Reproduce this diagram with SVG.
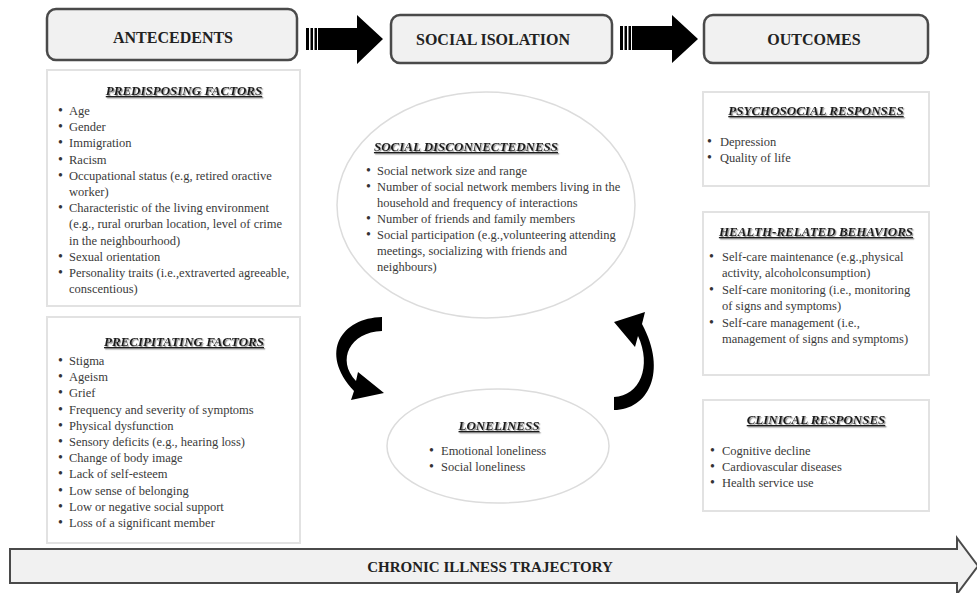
<svg xmlns="http://www.w3.org/2000/svg" width="977" height="593" viewBox="0 0 977 593">
<defs>
<filter id="sh" x="-5%" y="-20%" width="110%" height="150%">
<feDropShadow dx="1.2" dy="1.2" stdDeviation="0.7" flood-color="#777" flood-opacity="0.8"/>
</filter>
<style>
.hdr{fill:#f1f1f1;stroke:#4a4a4a;stroke-width:2.5}
.htx{font-family:"Liberation Serif",serif;font-weight:bold;font-size:16px;fill:#222;text-anchor:middle}
.box{fill:#fff;stroke:#e2e2e2;stroke-width:2}
.ell{fill:#fff;stroke:#dcdcdc;stroke-width:1.5}
.ttl{font-family:"Liberation Serif",serif;font-weight:bold;font-style:italic;font-size:13px;fill:#1a1a1a;text-decoration:underline;text-anchor:middle}
.bt{font-family:"Liberation Serif",serif;font-size:12.5px;fill:#3a3a3a}
.bt .b{font-size:14px;fill:#333}
.blk{fill:#000}
</style>
</defs>
<rect width="977" height="593" fill="#fff"/>

<g id="antecedents">
<rect class="hdr" x="47" y="9" width="250" height="51" rx="9"/>
<text class="htx" x="173" y="43">ANTECEDENTS</text>
</g>
<g id="social-isolation">
<rect class="hdr" x="391" y="15" width="221" height="48" rx="9"/>
<text class="htx" x="493" y="45">SOCIAL ISOLATION</text>
</g>
<g id="outcomes">
<rect class="hdr" x="704" y="15" width="224" height="48" rx="9"/>
<text class="htx" x="814" y="45">OUTCOMES</text>
</g>

<g id="predisposing">
<rect class="box" x="47" y="70" width="253" height="236"/>
<text class="ttl" x="184" y="95" filter="url(#sh)">PREDISPOSING FACTORS</text>
<g class="bt">
<text class="b" x="58" y="115">•</text><text x="69" y="115">Age</text>
<text class="b" x="58" y="131">•</text><text x="69" y="131">Gender</text>
<text class="b" x="58" y="147">•</text><text x="69" y="147">Immigration</text>
<text class="b" x="58" y="164">•</text><text x="69" y="164">Racism</text>
<text class="b" x="58" y="180">•</text><text x="69" y="180">Occupational status (e.g, retired oractive</text>
<text x="69" y="196">worker)</text>
<text class="b" x="58" y="212">•</text><text x="69" y="212">Characteristic of the living environment</text>
<text x="69" y="228">(e.g., rural orurban location, level of crime</text>
<text x="69" y="245">in the neighbourhood)</text>
<text class="b" x="58" y="261">•</text><text x="69" y="261">Sexual orientation</text>
<text class="b" x="58" y="277">•</text><text x="69" y="277">Personality traits (i.e.,extraverted agreeable,</text>
<text x="69" y="293">conscentious)</text>
</g>
</g>

<g id="precipitating">
<rect class="box" x="47" y="317" width="253" height="226"/>
<text class="ttl" x="184" y="346" filter="url(#sh)">PRECIPITATING FACTORS</text>
<g class="bt">
<text class="b" x="58" y="365">•</text><text x="69" y="365">Stigma</text>
<text class="b" x="58" y="381">•</text><text x="69" y="381">Ageism</text>
<text class="b" x="58" y="397">•</text><text x="69" y="397">Grief</text>
<text class="b" x="58" y="414">•</text><text x="69" y="414">Frequency and severity of symptoms</text>
<text class="b" x="58" y="430">•</text><text x="69" y="430">Physical dysfunction</text>
<text class="b" x="58" y="446">•</text><text x="69" y="446">Sensory deficits (e.g., hearing loss)</text>
<text class="b" x="58" y="462">•</text><text x="69" y="462">Change of body image</text>
<text class="b" x="58" y="478">•</text><text x="69" y="478">Lack of self-esteem</text>
<text class="b" x="58" y="495">•</text><text x="69" y="495">Low sense of belonging</text>
<text class="b" x="58" y="511">•</text><text x="69" y="511">Low or negative social support</text>
<text class="b" x="58" y="527">•</text><text x="69" y="527">Loss of a significant member</text>
</g>
</g>

<g id="social-disconnectedness">
<ellipse class="ell" cx="486" cy="205" rx="149" ry="113"/>
<text class="ttl" x="466" y="151" filter="url(#sh)">SOCIAL DISCONNECTEDNESS</text>
<g class="bt">
<text class="b" x="366" y="175">•</text><text x="377" y="175">Social network size and range</text>
<text class="b" x="366" y="191">•</text><text x="377" y="191">Number of social network members living in the</text>
<text x="377" y="207">household and frequency of interactions</text>
<text class="b" x="366" y="223">•</text><text x="377" y="223">Number of friends and family members</text>
<text class="b" x="366" y="239">•</text><text x="377" y="239">Social participation (e.g.,volunteering attending</text>
<text x="377" y="255">meetings, socializing with friends and</text>
<text x="377" y="271">neighbours)</text>
</g>
</g>

<g id="loneliness">
<ellipse class="ell" cx="498" cy="446" rx="111" ry="57"/>
<text class="ttl" x="499" y="430" filter="url(#sh)">LONELINESS</text>
<g class="bt">
<text class="b" x="429" y="455">•</text><text x="441" y="455">Emotional loneliness</text>
<text class="b" x="429" y="471">•</text><text x="441" y="471">Social loneliness</text>
</g>
</g>

<g id="psychosocial">
<rect class="box" x="703" y="92" width="226" height="94"/>
<text class="ttl" x="816" y="115" filter="url(#sh)">PSYCHOSOCIAL RESPONSES</text>
<g class="bt">
<text class="b" x="707" y="146">•</text><text x="720" y="146">Depression</text>
<text class="b" x="707" y="162">•</text><text x="720" y="162">Quality of life</text>
</g>
</g>

<g id="health-behaviors">
<rect class="box" x="703" y="212" width="226" height="163"/>
<text class="ttl" x="816" y="236" filter="url(#sh)">HEALTH-RELATED BEHAVIORS</text>
<g class="bt">
<text class="b" x="709" y="261">•</text><text x="722" y="261">Self-care maintenance (e.g.,physical</text>
<text x="722" y="277">activity, alcoholconsumption)</text>
<text class="b" x="709" y="294">•</text><text x="722" y="294">Self-care monitoring (i.e., monitoring</text>
<text x="722" y="310">of signs and symptoms)</text>
<text class="b" x="709" y="327">•</text><text x="722" y="327">Self-care management (i.e.,</text>
<text x="722" y="343">management of signs and symptoms)</text>
</g>
</g>

<g id="clinical">
<rect class="box" x="703" y="400" width="226" height="111"/>
<text class="ttl" x="816" y="424" filter="url(#sh)">CLINICAL RESPONSES</text>
<g class="bt">
<text class="b" x="710" y="455">•</text><text x="722" y="455">Cognitive decline</text>
<text class="b" x="710" y="471">•</text><text x="722" y="471">Cardiovascular diseases</text>
<text class="b" x="710" y="487">•</text><text x="722" y="487">Health service use</text>
</g>
</g>

<g id="trajectory">
<path d="M10 549 L957 549 L957 538 L978 566 L957 594 L957 583 L10 583 Z" fill="#f1f1f1" stroke="#4a4a4a" stroke-width="2"/>
<text class="htx" x="490" y="572" style="font-size:15px">CHRONIC ILLNESS TRAJECTORY</text>
</g>

<g id="connectors">
<g class="blk">
<rect x="306" y="28" width="3" height="22"/>
<rect x="310.5" y="28" width="2.5" height="22"/>
<rect x="314.5" y="28" width="2.5" height="22"/>
<path d="M318 28 L357 28 L357 15 L383 39 L357 64 L357 50 L318 50 Z"/>
<rect x="620" y="26" width="3" height="24"/>
<rect x="624.5" y="26" width="2.5" height="24"/>
<rect x="628.5" y="26" width="2.5" height="24"/>
<path d="M632 26 L672 26 L672 15 L698 39 L672 63 L672 50 L632 50 Z"/>
<path d="M382 317 C342 318 318 352 354 391 L351 400 L384 393 L358 372 L356 381 C336 360 350 332 382 331 Z"/>
<path d="M614 410 C648 410 668 372 642 324 L645 312 L614 322 L635 347 L638 336 C652 366 640 396 614 397 Z"/>
</g>
</g>
</svg>
